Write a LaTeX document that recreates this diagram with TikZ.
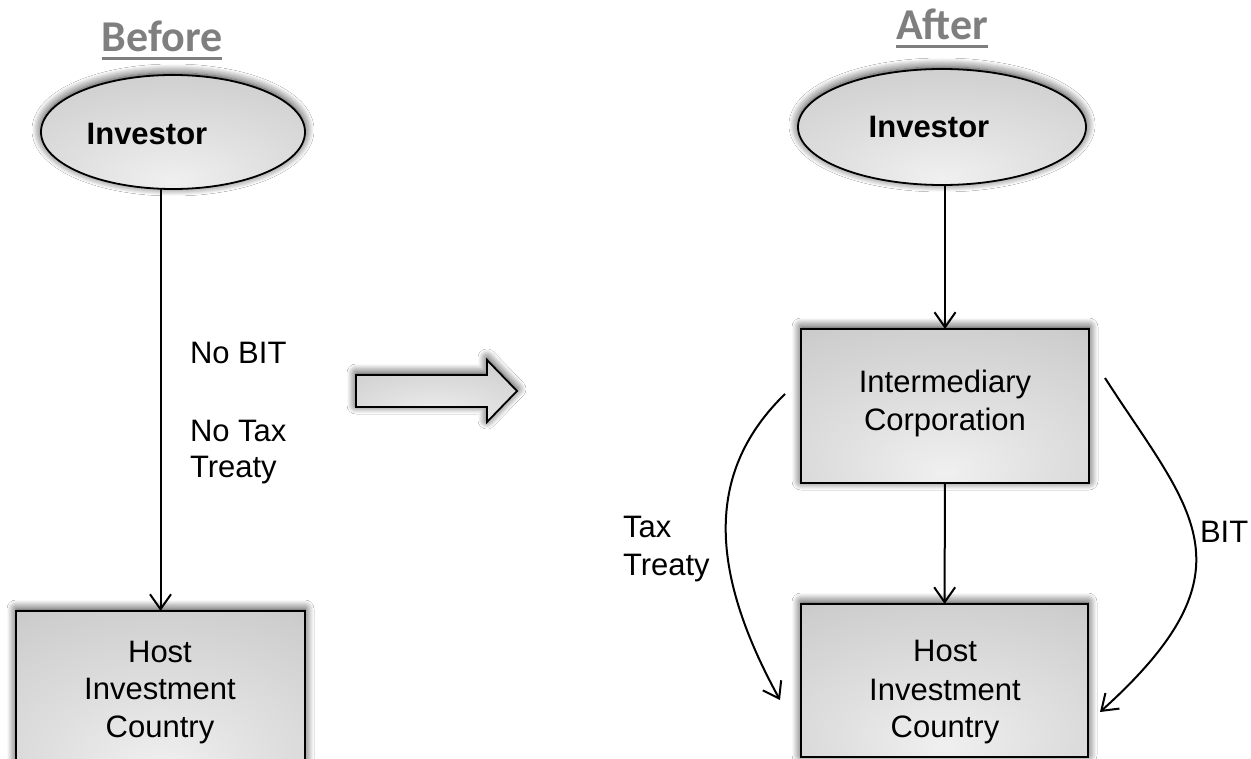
\documentclass[tikz,border=0pt]{standalone}
\usepackage{fontspec}
\setmainfont{Liberation Sans}
\newfontfamily\titlefont{Carlito}
\usetikzlibrary{shapes.geometric,arrows.meta,shadows.blur}

\definecolor{titlegray}{HTML}{7F7F7F}
\definecolor{fillLight}{HTML}{F0F0F0}
\definecolor{fillMid}{HTML}{CDCDCD}
\definecolor{fillDark}{HTML}{9C9C9C}
% soft grey fill, brightest just below the middle
\pgfdeclareradialshading{softgray}{\pgfpoint{0bp}{-22bp}}{%
  color(0bp)=(fillLight);
  color(18bp)=(fillLight!55!fillMid);
  color(42bp)=(fillMid);
  color(72bp)=(fillDark);
  color(100bp)=(fillDark)}

\begin{document}
\begin{tikzpicture}[x=1pt,y=-1pt,
  every node/.style={inner sep=0pt, outer sep=0pt},
  txt/.style={font=\fontsize{31}{38}\selectfont},
  boldtxt/.style={font=\fontsize{31}{38}\selectfont\bfseries},
  heading/.style={font=\titlefont\fontsize{44}{50}\selectfont\bfseries, text=titlegray},
  headrule/.style={draw=titlegray, line width=3pt},
  shaded/.style={draw=black, line width=1.8pt, shading=softgray,
    blur shadow={shadow xshift=0pt, shadow yshift=2pt,
                 shadow blur radius=9pt, shadow blur steps=10,
                 shadow opacity=85}},
  entity/.style={shaded, rectangle},
  party/.style={shaded, ellipse},
  flow/.style={line width=2pt,
    -{Straight Barb[length=15pt,width=21pt,line width=2pt]}}]

\clip (0,0) rectangle (1251,759);
\fill[white] (0,0) rectangle (1251,759);

% ---------- Before ----------
\node[heading, anchor=base] (before) at (162,52) {Before};
\draw[headrule] ([yshift=-7pt]before.base west) -- ([yshift=-7pt]before.base east);

\node[party, minimum width=264, minimum height=114] (invL) at (173,132) {};
\node[boldtxt, anchor=base] (invLt) at (147,145) {Investor};

\node[entity, minimum width=289, minimum height=170, anchor=north west] (hostL) at (16,611) {};
\node[txt, anchor=base] (hostLa) at (160,662) {Host};
\node[txt, anchor=base] (hostLb) at (160,699) {Investment};
\node[txt, anchor=base] (hostLc) at (160,737) {Country};

\draw[flow] (invL.south -| hostL.north) -- (hostL.north);

\node[txt, anchor=base west] (nobit) at (190,363) {No BIT};
\node[txt, anchor=base west] (notaxa) at (190,442) {No Tax};
\node[txt, anchor=base west] (notaxb) at (190,477) {Treaty};

% ---------- transition arrow ----------
\draw[shaded] (356,375) -- (487,375) -- (487,360) -- (517,391)
  -- (487,422) -- (487,407) -- (356,407) -- cycle;

% ---------- After ----------
\node[heading, anchor=base] (after) at (942,40) {After};
\draw[headrule] ([yshift=-7pt]after.base west) -- ([yshift=-7pt]after.base east);

\node[party, minimum width=288, minimum height=116] (invR) at (942,127) {};
\node[boldtxt, anchor=base] (invRt) at (929,138) {Investor};

\node[entity, minimum width=288, minimum height=154, anchor=north west] (mid) at (801,329) {};
\node[txt, anchor=base] (mida) at (945,392) {Intermediary};
\node[txt, anchor=base] (midb) at (945,430) {Corporation};

\node[entity, minimum width=287, minimum height=153, anchor=north west] (hostR) at (801,604) {};
\node[txt, anchor=base] (hostRa) at (945,661) {Host};
\node[txt, anchor=base] (hostRb) at (945,700) {Investment};
\node[txt, anchor=base] (hostRc) at (945,737) {Country};

\draw[flow] (invR.south -| mid.north) -- (mid.north);
\draw[flow] (mid) -- (hostR);

% treaty routes around the intermediary
\coordinate (ttS) at (785,394);
\coordinate (ttE) at (780,700);
\draw[flow] (ttS) .. controls (707,470) and (707,567) .. (ttE);
\node[txt, anchor=base west] (taxa) at (623,537) {Tax};
\node[txt, anchor=base west] (taxb) at (623,575) {Treaty};

\coordinate (bitS) at (1105,378);
\coordinate (bitE) at (1100,712);
\draw[flow] (bitS) .. controls (1190,510) and (1260,568) .. (bitE);
\node[txt, anchor=base west] (bit) at (1200,542) {BIT};

\end{tikzpicture}
\end{document}
